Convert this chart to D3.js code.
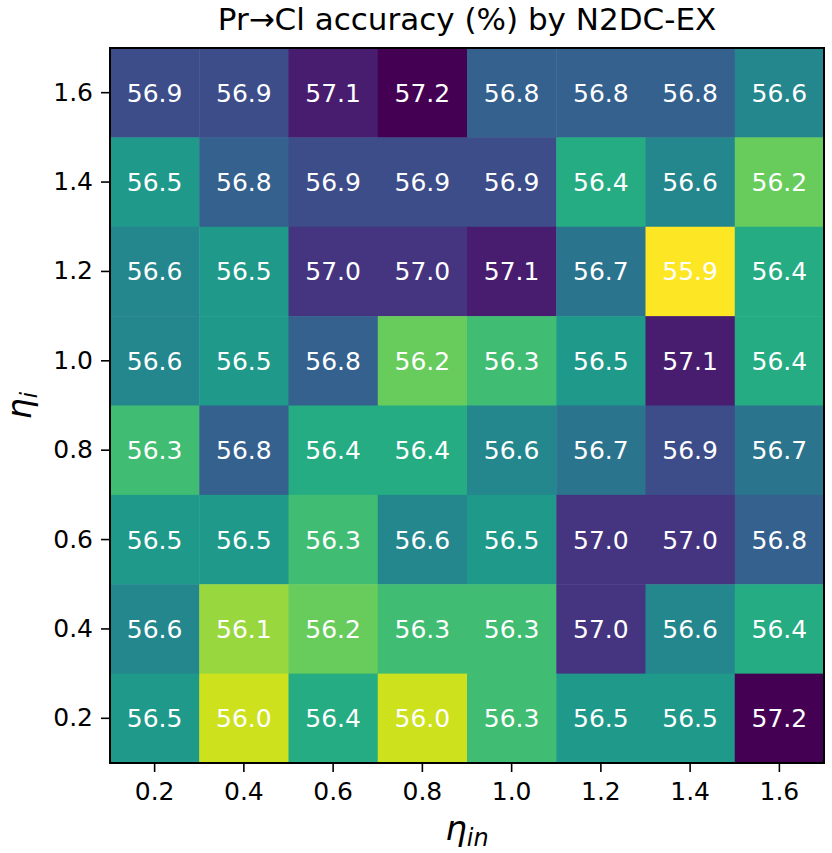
<!DOCTYPE html>
<html>
<head>
<meta charset="utf-8">
<script src="https://cdn.jsdelivr.net/npm/d3@7"></script>
<style>
  body { margin: 0; background: #fff; }
  svg { font-family: "DejaVu Sans", sans-serif; }
</style>
</head>
<body>
<div id="heatmap"></div>
<script>
// valeurs
var etaIn = ["0.2", "0.4", "0.6", "0.8", "1.0", "1.2", "1.4", "1.6"];
var etaI = ["1.6", "1.4", "1.2", "1.0", "0.8", "0.6", "0.4", "0.2"]; // du haut vers le bas

var row16 = [56.9, 56.9, 57.1, 57.2, 56.8, 56.8, 56.8, 56.6];
var row14 = [56.5, 56.8, 56.9, 56.9, 56.9, 56.4, 56.6, 56.2];
var row12 = [56.6, 56.5, 57.0, 57.0, 57.1, 56.7, 55.9, 56.4];
var row10 = [56.6, 56.5, 56.8, 56.2, 56.3, 56.5, 57.1, 56.4];
var row08 = [56.3, 56.8, 56.4, 56.4, 56.6, 56.7, 56.9, 56.7];
var row06 = [56.5, 56.5, 56.3, 56.6, 56.5, 57.0, 57.0, 56.8];
var row04 = [56.6, 56.1, 56.2, 56.3, 56.3, 57.0, 56.6, 56.4];
var row02 = [56.5, 56.0, 56.4, 56.0, 56.3, 56.5, 56.5, 57.2];

var rows = [row16, row14, row12, row10, row08, row06, row04, row02];

var W = 832, H = 853;
var margin = { top: 48, right: 8, bottom: 90, left: 110 };
var w = W - margin.left - margin.right;
var h = H - margin.top - margin.bottom;

var svg = d3.select("#heatmap")
  .append("svg")
  .attr("width", W)
  .attr("height", H);

var g = svg.append("g")
  .attr("transform", "translate(" + margin.left + "," + margin.top + ")");

var x = d3.scaleBand().domain(etaIn).range([0, w]);
var y = d3.scaleBand().domain(etaI).range([0, h]);

var cells = [];
rows.forEach(function(r, i) {
  r.forEach(function(v, j) {
    cells.push({ row: etaI[i], col: etaIn[j], value: v });
  });
});

var allVals = cells.map(d => d.value);
// viridis inversé : valeur haute = violet foncé
var color = d3.scaleSequential(t => d3.interpolateViridis(1 - t))
  .domain([d3.min(allVals), d3.max(allVals)]);

g.selectAll("rect.cell")
  .data(cells)
  .enter()
  .append("rect")
  .attr("class", "cell")
  .attr("x", d => x(d.col))
  .attr("y", d => y(d.row))
  .attr("width", x.bandwidth() + 0.5)
  .attr("height", y.bandwidth() + 0.5)
  .attr("fill", d => color(d.value));

g.selectAll("text.val")
  .data(cells)
  .enter()
  .append("text")
  .attr("class", "val")
  .attr("x", d => x(d.col) + x.bandwidth() / 2)
  .attr("y", d => y(d.row) + y.bandwidth() / 2)
  .attr("dy", "0.36em")
  .attr("text-anchor", "middle")
  .attr("fill", "#fff")
  .style("font-size", "25px")
  .text(d => d.value.toFixed(1));

// axes
var xAxis = g.append("g")
  .attr("transform", "translate(0," + h + ")")
  .call(d3.axisBottom(x).tickSize(9).tickPadding(10));
var yAxis = g.append("g")
  .call(d3.axisLeft(y).tickSize(9).tickPadding(8));

[xAxis, yAxis].forEach(function(a) {
  a.select(".domain").remove();
  a.selectAll("line").attr("stroke", "#000").attr("stroke-width", 1.6);
  a.selectAll("text")
    .attr("fill", "#000")
    .style("font-size", "25px")
    .style("font-family", "DejaVu Sans");
});

// cadre
g.append("rect")
  .attr("width", w)
  .attr("height", h)
  .attr("fill", "none")
  .attr("stroke", "#000")
  .attr("stroke-width", 2);

// titre
svg.append("text")
  .attr("x", margin.left + w / 2)
  .attr("y", 30)
  .attr("text-anchor", "middle")
  .style("font-size", "31px")
  .text("Pr\u2192Cl accuracy (%) by N2DC-EX");

// label x
var xl = svg.append("text")
  .attr("x", margin.left + w / 2)
  .attr("y", 840)
  .attr("text-anchor", "middle")
  .style("font-size", "34px")
  .style("font-style", "italic");
xl.append("tspan").text("\u03b7");
xl.append("tspan").attr("dy", 6).style("font-size", "24px").text("in");

// label y
var yl = svg.append("text")
  .attr("transform", "translate(31," + (margin.top + h / 2) + ") rotate(-90)")
  .attr("text-anchor", "middle")
  .style("font-size", "33px")
  .style("font-style", "italic");
yl.append("tspan").text("\u03b7");
yl.append("tspan").attr("dy", 6).style("font-size", "23px").text("i");
</script>
</body>
</html>
